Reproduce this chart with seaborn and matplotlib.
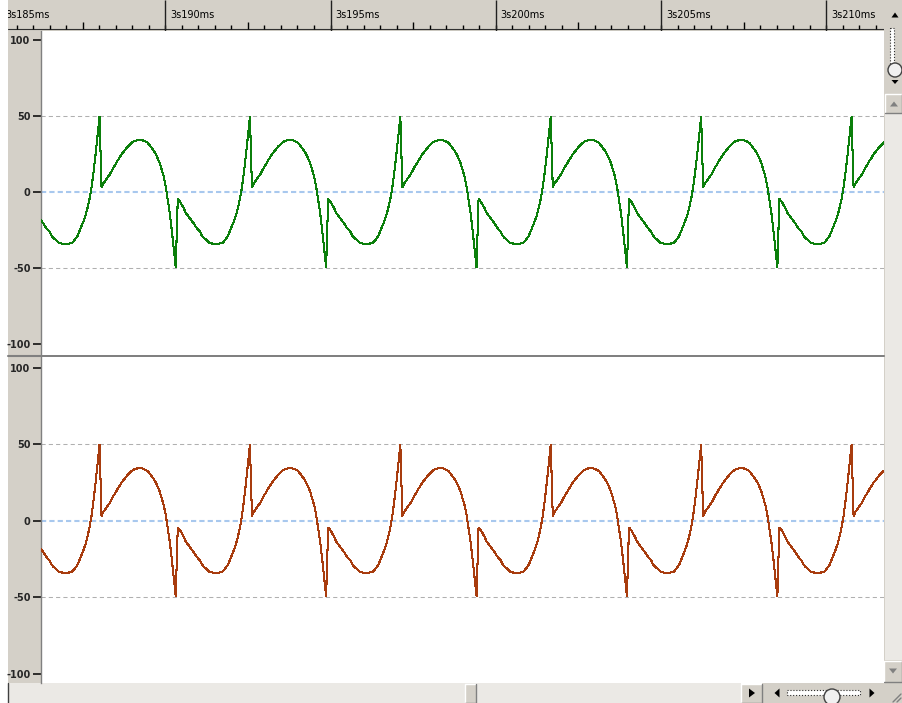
import numpy as np
import pandas as pd
import matplotlib
matplotlib.use("Agg")
import matplotlib.pyplot as plt
from matplotlib.patches import Rectangle, Circle, Polygon
import seaborn as sns

sns.set_style("white")
plt.rcParams['font.family'] = ['DejaVu Sans']

W, H = 903, 703

# one cycle of the tone, read off the display every 2 px,
# starting with the sample just after the +50 spike
cycle_values = [3.0, 5.9, 7.6, 9.6, 11.3, 13.7, 16.3, 18.3, 20.7, 22.6,
                24.8, 26.5, 28.1, 29.8, 31.1, 32.4, 33.3, 33.7, 34.2, 34.3,
                34.2, 33.7, 33.1, 32.4, 30.7, 28.9, 27.2, 25.0, 22.2, 19.0,
                14.6, 10.2, 3.7, -5.0, -13.7, -25.0, -37.0, -49.5,
                -4.6, -6.1, -8.3, -10.7, -13.7, -15.5, -17.2, -19.0, -20.7, -22.9,
                -24.6, -25.9, -28.6, -30.3, -31.2, -32.5, -33.8, -33.8, -34.5, -34.5,
                -34.5, -33.8, -33.8, -32.5, -30.8, -29.0, -25.7, -22.5, -19.2, -15.5,
                -10.5, -4.6, 3.0, 13.0, 24.5, 37.0, 49.5]
tone_hz = 220
first_sample_ms = 3183.555
n_cycles = 7

ruler_major_ms = [3185, 3190, 3195, 3200, 3205, 3210]
ruler_labels = ["3s185ms", "3s190ms", "3s195ms", "3s200ms", "3s205ms", "3s210ms"]
level_ticks = [100, 50, 0, -50, -100]
level_labels = ["100", "50", "0", "-50", "-100"]
dashed_levels = [50, -50]

channel_colors = ["#0b7f0b", "#a83c0e"]
chrome = "#d4d0c8"
hatch = "#ebe9e5"

# screen mapping: 3s185ms sits at pixel 0, 33.05 px per ms
px_per_ms = 33.05
def ms_at(px):
    return 3185 + px / px_per_ms

step_ms = 1000 / tone_hz / len(cycle_values)
t_ms = first_sample_ms + np.arange(n_cycles * len(cycle_values)) * step_ms
wave = pd.DataFrame({"t": t_ms, "level": np.tile(cycle_values, n_cycles)})

fig = plt.figure(figsize=(W / 100, H / 100), dpi=100)

def px_axes(x0, y0, x1, y1, **kw):
    return fig.add_axes([x0 / W, 1 - y1 / H, (x1 - x0) / W, (y1 - y0) / H], **kw)

# window chrome in pixel coordinates, behind everything
bg = px_axes(0, 0, W, H, zorder=-5)
bg.set_xlim(0, W)
bg.set_ylim(H, 0)
bg.axis("off")

def box(x0, y0, x1, y1, fc=chrome, ec=None, lw=0):
    bg.add_patch(Rectangle((x0, y0), x1 - x0, y1 - y0, fc=fc, ec=ec, lw=lw))

def bevel(x0, y0, x1, y1):
    box(x0, y0, x1, y1)
    bg.plot([x0, x0, x1], [y1, y0, y0], color="white", lw=1)
    bg.plot([x0, x1, x1], [y1, y1, y0], color="#808080", lw=1)

def tri(cx, cy, w, h, direction, color="black"):
    if direction == "up":
        pts = [(cx - w / 2, cy + h / 2), (cx + w / 2, cy + h / 2), (cx, cy - h / 2)]
    elif direction == "down":
        pts = [(cx - w / 2, cy - h / 2), (cx + w / 2, cy - h / 2), (cx, cy + h / 2)]
    elif direction == "right":
        pts = [(cx - h / 2, cy - w / 2), (cx - h / 2, cy + w / 2), (cx + h / 2, cy)]
    else:
        pts = [(cx + h / 2, cy - w / 2), (cx + h / 2, cy + w / 2), (cx - h / 2, cy)]
    bg.add_patch(Polygon(pts, closed=True, fc=color, ec="none"))

# left level strip and separator
box(8, 31, 41, 683)
bg.plot([8, 884], [356, 356], color="#808080", lw=1.5)

# right vertical scroller
box(884, 0, 903, 683)
tri(895, 15, 7, 5, "up")
bg.add_patch(Rectangle((890, 28), 4, 36, fc="white", ec="#303030", lw=0.8, ls=":"))
bg.add_patch(Circle((895, 70), 7, fc="#f0f0f0", ec="#404040", lw=1))
tri(895, 82, 7, 4, "down")
bevel(885, 94, 902, 113)
tri(894, 104, 8, 5, "up", "#808080")
box(885, 114, 903, 660, fc=hatch)
bevel(884, 661, 902, 682)
tri(893, 671, 8, 5, "down", "#808080")

# bottom horizontal scroller
box(8, 683, 741, 703, fc=hatch)
bg.plot([8.5, 8.5], [683, 703], color="#404040", lw=1)
bevel(465, 684, 476, 703)
bevel(741, 684, 762, 703)
tri(752, 693, 9, 6, "right")
box(762, 683, 903, 703)
tri(777, 693, 9, 5, "left")
bg.add_patch(Rectangle((787, 690), 73, 5, fc="white", ec="#303030", lw=0.8, ls=":"))
bg.add_patch(Circle((832, 697), 8, fc="#f0f0f0", ec="#404040", lw=1))
tri(872, 693, 9, 5, "right")
bg.plot([893, 901], [702, 694], color="#808080", lw=1)
bg.plot([897, 901], [702, 698], color="#808080", lw=1)

# time ruler
ruler = px_axes(8, 0, 884, 31)
ruler.set_facecolor(chrome)
ruler.set_xlim(ms_at(8), ms_at(884))
ruler.set_ylim(0, 31)
ruler.set_xticks([])
ruler.set_yticks([])
for s in ruler.spines.values():
    s.set_visible(False)
ruler.axhline(2.5, color="#303030", lw=0.8)
minor_ms = np.arange(3185, 3212.5, 0.5)
for m in minor_ms:
    tall = abs((m - 3185) % 5 - 2.5) < 1e-6
    ruler.vlines(m, 2.5, 9 if tall else 6, color="black", lw=1)
for m, lab in zip(ruler_major_ms, ruler_labels):
    ruler.vlines(m, 0, 31, color="#202020", lw=1)
    ruler.text(m + 5 / px_per_ms, 16, lab, fontsize=7, ha="left", va="center",
               color="black", clip_on=True)

# the two channels
panels = [(31, 355, 105.9, -107.2), (357, 683, 106.9, -106.2)]
for (y0, y1, top, bottom), color in zip(panels, channel_colors):
    ax = px_axes(41, y0, 884, y1)
    ax.set_facecolor("white")
    for lvl in dashed_levels:
        ax.axhline(lvl, color="#b0b0b0", lw=0.75, ls=(0, (4, 3)), zorder=1)
    ax.axhline(0, color="#a8c8ee", lw=1.5, ls=(0, (2.5, 1.5)), zorder=1)
    sns.lineplot(data=wave, x="t", y="level", ax=ax, color=color, linewidth=0.75,
                 antialiased=False, estimator=None, sort=False, zorder=3)
    ax.set_xlim(ms_at(42), ms_at(884))
    ax.set_ylim(bottom, top)
    ax.set_xlabel("")
    ax.set_ylabel("")
    ax.set_xticks([])
    ax.set_yticks(level_ticks)
    ax.set_yticklabels(level_labels, fontsize=7, fontweight="bold")
    ax.tick_params(axis="y", direction="out", length=6, width=1.1, color="black",
                   pad=1.5, left=True)
    for name, s in ax.spines.items():
        s.set_visible(name == "left")
    ax.spines["left"].set_color("#808080")
    ax.spines["left"].set_linewidth(1)

fig.savefig("out.png", dpi=100)
